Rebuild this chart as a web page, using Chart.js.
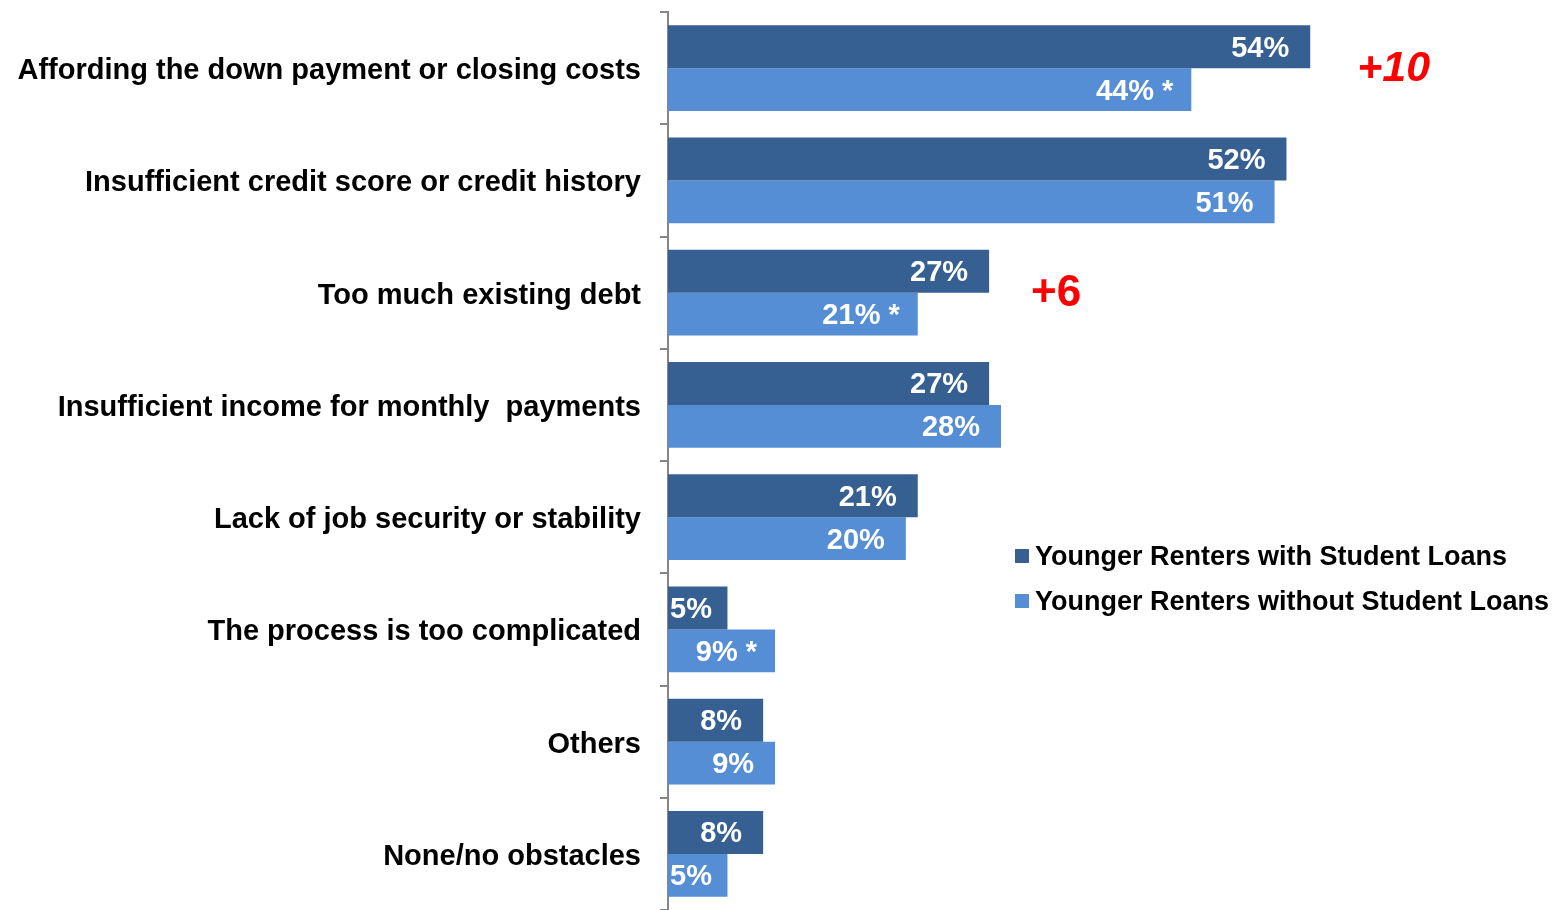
<!DOCTYPE html>
<html>
<head>
<meta charset="utf-8">
<script src="https://cdn.jsdelivr.net/npm/chart.js@4.4.1/dist/chart.umd.min.js"></script>
<style>
  html, body { margin: 0; padding: 0; background: #fff; }
  #wrap { width: 1563px; height: 910px; position: relative; }
</style>
</head>
<body>
<div id="wrap"><canvas id="obstacles"></canvas></div>
<script>
const categories = [
    'Affording the down payment or closing costs',
    'Insufficient credit score or credit history',
    'Too much existing debt',
    'Insufficient income for monthly  payments',
    'Lack of job security or stability',
    'The process is too complicated',
    'Others',
    'None/no obstacles'
];
const withLoans = [54, 52, 27, 27, 21, 5, 8, 8];
const withoutLoans = [44, 51, 21, 28, 20, 9, 9, 5];
// significant differences get an asterisk on the second series
const significant = [true, false, true, false, false, true, false, false];
// rows where the gap is called out in red
const gapRows = [0, 2];
const seriesNames = ['Younger Renters with Student Loans', 'Younger Renters without Student Loans'];

const darkBlue = '#376092';
const lightBlue = '#558ed5';
const FONT = '"Liberation Sans", Arial, sans-serif';

// white labels inside the bar ends
const valueLabels = {
    id: 'valueLabels',
    afterDatasetsDraw(chart) {
        const ctx = chart.ctx;
        ctx.save();
        ctx.font = 'bold 29px ' + FONT;
        ctx.fillStyle = '#fff';
        ctx.textAlign = 'right';
        ctx.textBaseline = 'middle';
        chart.data.datasets.forEach((ds, di) => {
            chart.getDatasetMeta(di).data.forEach((bar, i) => {
                let txt = ds.data[i] + '%';
                let off = 21;
                if (di === 1 && significant[i]) { txt += ' *'; off = 18; }
                // short bars: keep the label from spilling past the axis
                const minX = bar.base + ctx.measureText(txt).width + 2;
                ctx.fillText(txt, Math.max(bar.x - off, minX), bar.y + 2);
            });
        });
        ctx.restore();
    }
};

// red "+n" call-outs next to the larger bar
const gapNotes = {
    id: 'gapNotes',
    afterDatasetsDraw(chart) {
        const ctx = chart.ctx;
        const x = chart.scales.x, y = chart.scales.y;
        ctx.save();
        ctx.fillStyle = '#ff0000';
        ctx.textBaseline = 'middle';
        ctx.textAlign = 'left';
        gapRows.forEach((i, k) => {
            ctx.font = (k === 0 ? 'italic bold 43px ' : 'bold 44px ') + FONT;
            const diff = withLoans[i] - withoutLoans[i];
            ctx.fillText('+' + diff, x.getPixelForValue(withLoans[i]) + (k === 0 ? 47 : 42), y.getPixelForValue(i) + 1);
        });
        ctx.restore();
    }
};

// legend sitting inside the plot, right side
const boxLegend = {
    id: 'boxLegend',
    afterDraw(chart) {
        const ctx = chart.ctx;
        ctx.save();
        ctx.font = 'bold 27px ' + FONT;
        ctx.textBaseline = 'middle';
        chart.data.datasets.forEach((ds, i) => {
            const top = 556 + i * 45;
            ctx.fillStyle = ds.backgroundColor;
            ctx.fillRect(1015, top - 7, 14, 14);
            ctx.fillStyle = '#000';
            ctx.fillText(ds.label, 1035, top + 2);
        });
        ctx.restore();
    }
};

new Chart(document.getElementById('obstacles'), {
    type: 'bar',
    data: {
        labels: categories,
        datasets: [
            { label: seriesNames[0], data: withLoans, backgroundColor: darkBlue },
            { label: seriesNames[1], data: withoutLoans, backgroundColor: lightBlue }
        ]
    },
    options: {
        indexAxis: 'y',
        responsive: true,
        maintainAspectRatio: false,
        animation: false,
        layout: { padding: { top: 12, right: 3, bottom: 0, left: 0 } },
        datasets: {
            bar: { categoryPercentage: 0.765, barPercentage: 1.0 }
        },
        scales: {
            x: {
                min: 0,
                max: 75,
                display: false
            },
            y: {
                offset: true,
                afterFit(scale) {
                    scale.width = 668;
                    scale.paddingTop = 0;
                    scale.paddingBottom = 0;
                },
                grid: {
                    offset: true,
                    drawOnChartArea: false,
                    color: '#868686',
                    tickLength: 8,
                    lineWidth: 2
                },
                border: { display: true, color: '#868686', width: 2 },
                ticks: {
                    color: '#000',
                    padding: 19,
                    labelOffset: 3,
                    font: { family: FONT, size: 29, weight: 'bold' }
                }
            }
        },
        plugins: {
            legend: { display: false },
            tooltip: { enabled: false }
        }
    },
    plugins: [valueLabels, gapNotes, boxLegend]
});
</script>
</body>
</html>
